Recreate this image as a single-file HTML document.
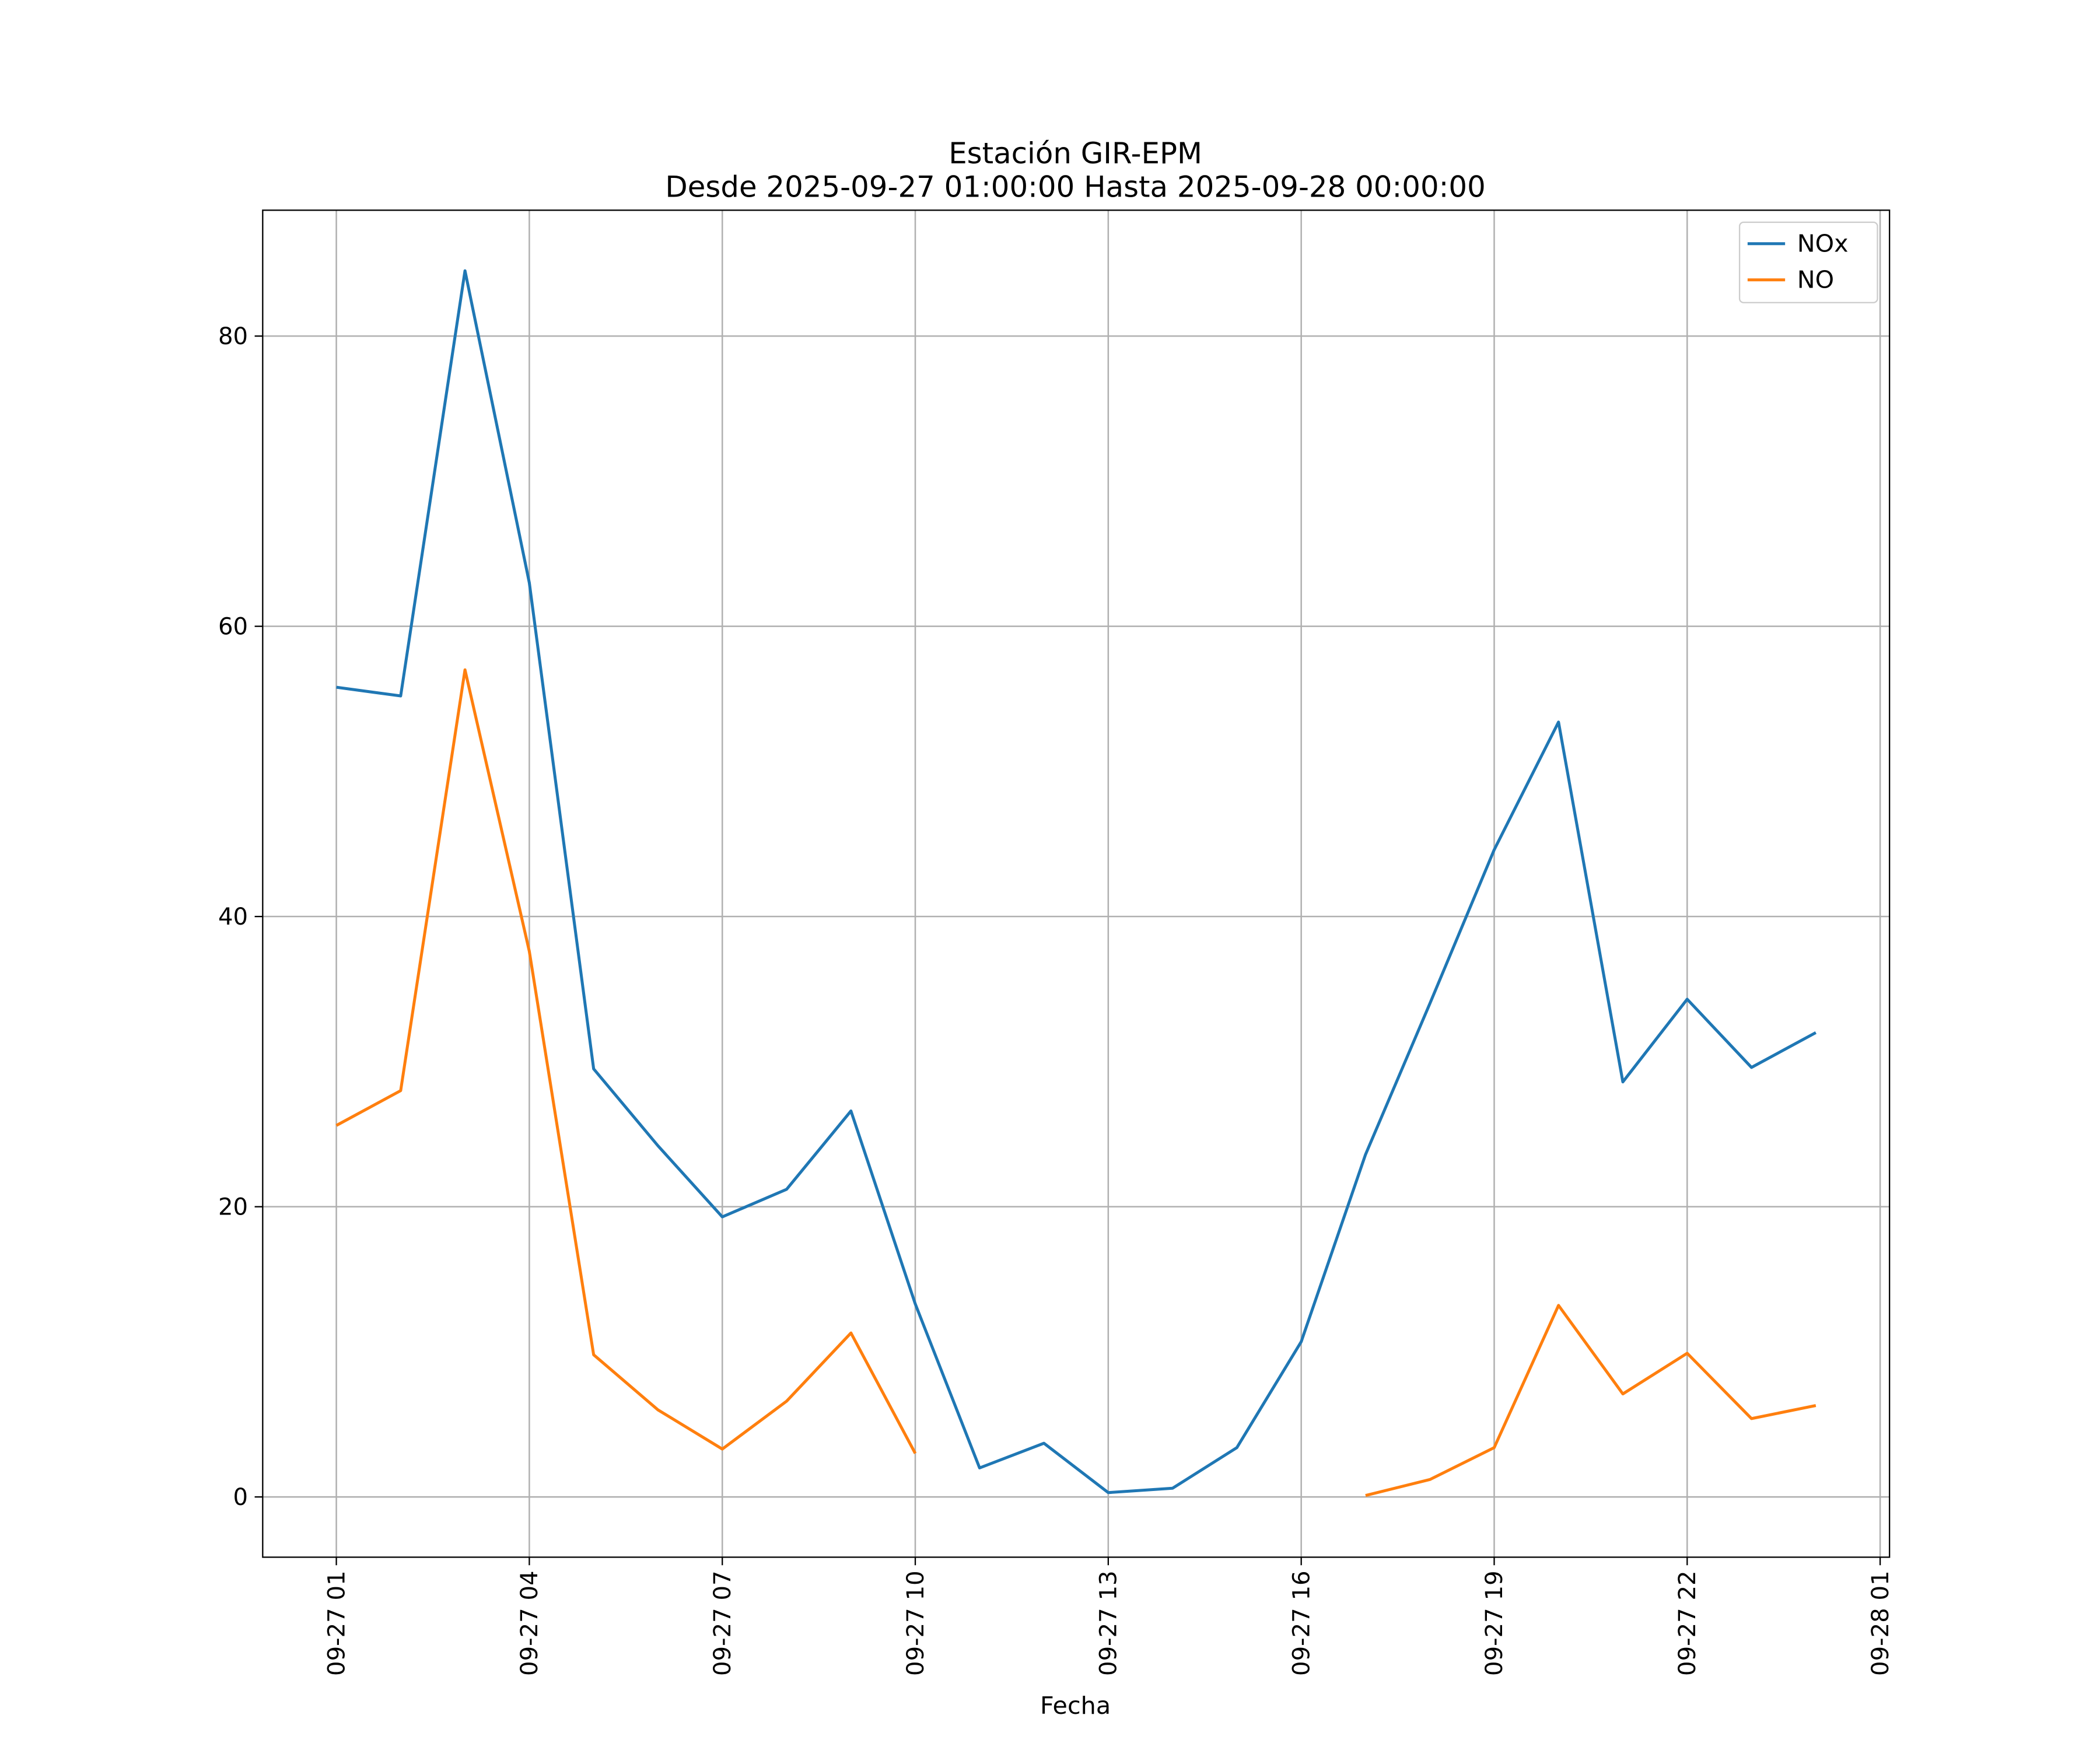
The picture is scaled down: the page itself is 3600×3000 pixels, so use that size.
<!DOCTYPE html>
<html><head><meta charset="utf-8"><style>
html,body{margin:0;padding:0;background:#fff;}
svg{display:block;font-family:"DejaVu Sans","Liberation Sans",sans-serif;}
</style></head><body>
<svg id="chart" width="3600" height="3000" viewBox="0 0 1568 1307" xmlns="http://www.w3.org/2000/svg">
<rect x="0" y="0" width="1568" height="1307" fill="#fff"/>
<text x="803" y="122" font-size="21.7" text-anchor="middle">Estación GIR-EPM</text>
<text x="803" y="147" font-size="21.7" text-anchor="middle">Desde 2025-09-27 01:00:00 Hasta 2025-09-28 00:00:00</text>
<g id="grid"></g>
<g id="series"></g>
<rect x="196" y="157" width="1215" height="1006" fill="none" stroke="#000" stroke-width="1"/>
<g id="axes"></g>
<text x="803" y="1280" font-size="18" text-anchor="middle">Fecha</text>
<g>
<rect x="1299" y="166" width="103" height="60" rx="3" fill="#fff" stroke="#ccc"/>
<line x1="1305" y1="182" x2="1333" y2="182" stroke="#1f77b4" stroke-width="2.2"/>
<text x="1342" y="188" font-size="18">NOx</text>
<line x1="1305" y1="209" x2="1333" y2="209" stroke="#ff7f0e" stroke-width="2.2"/>
<text x="1342" y="215" font-size="18">NO</text>
</g>
</svg>
<script>
const hours = [1,2,3,4,5,6,7,8,9,10,11,12,13,14,15,16,17,18,19,20,21,22,23,24];
const noxValues = [55.8,55.2,84.5,63,29.5,24.2,19.3,21.2,26.6,13.3,2.0,3.7,0.3,0.6,3.4,10.7,23.6,34,44.6,53.4,28.6,34.3,29.6,32.0];
const noValues = [25.6,28.0,57.0,37.6,9.8,6.0,3.3,6.6,11.3,3.0,null,null,null,null,null,null,0.1,1.2,3.4,13.2,7.1,9.9,5.4,6.3];
const yTicks = [0,20,40,60,80];
const xTickHours = [1,4,7,10,13,16,19,22,25];
const xTickLabels = ["09-27 01","09-27 04","09-27 07","09-27 10","09-27 13","09-27 16","09-27 19","09-27 22","09-28 01"];

const NS = "http://www.w3.org/2000/svg";
function xs(h){ return 251 + (h-1)*(1404-251)/24; }
function ys(v){ return 1118 - v*(1118-251)/80; }
function mk(tag, attrs, parent){ const e=document.createElementNS(NS,tag); for(const k in attrs) e.setAttribute(k,attrs[k]); parent.appendChild(e); return e; }
const grid=document.getElementById('grid'), axes=document.getElementById('axes'), series=document.getElementById('series');
yTicks.forEach(v=>{
  const y=ys(v);
  const g=mk('line',{x1:196,x2:1411,y1:y,y2:y,stroke:'#b0b0b0','stroke-width':1.1},grid);
  
  
  mk('line',{x1:190,x2:196,y1:y,y2:y,stroke:'#000'},axes);
  const t=mk('text',{x:185,y:y+6,'font-size':17.5,'text-anchor':'end'},axes);
  t.textContent=v;
  
  
});
xTickHours.forEach((h,i)=>{
  const x=xs(h);
  const g=mk('line',{x1:x,x2:x,y1:157,y2:1163,stroke:'#b0b0b0','stroke-width':1.1},grid);
  
  
  mk('line',{x1:x,x2:x,y1:1163,y2:1169,stroke:'#000'},axes);
  const t=mk('text',{x:x+6,y:1173,'font-size':17.5,'text-anchor':'end',transform:`rotate(-90 ${x+6} 1173)`},axes);
  t.textContent=xTickLabels[i];
  
  
});
function drawSeries(vals,color,name){
  let d='', pen=false;
  vals.forEach((v,i)=>{
    if(v===null){pen=false;return;}
    d+=(pen?'L':'M')+xs(hours[i])+' '+ys(v)+' ';
    pen=true;
  });
  const p=mk('path',{d:d,fill:'none',stroke:color,'stroke-width':2.2,'stroke-linejoin':'round'},series);
  
  
}
drawSeries(noxValues,'#1f77b4','nox-line');
drawSeries(noValues,'#ff7f0e','no-line');
</script>
</body></html>
